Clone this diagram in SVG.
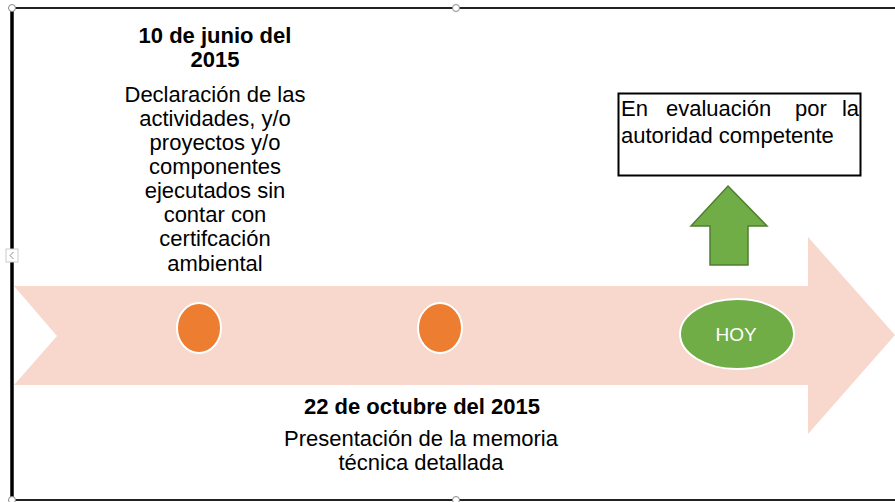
<svg xmlns="http://www.w3.org/2000/svg" width="895" height="502" viewBox="0 0 895 502">
<style>
.t{font-family:"Liberation Sans",Arial,sans-serif;font-size:22px;fill:#000;text-anchor:middle}
.b{font-weight:bold}
.j{font-family:"Liberation Sans",Arial,sans-serif;font-size:22px;fill:#000}
.handle{fill:#fff;stroke:#888;stroke-width:1}
</style>
<rect x="0" y="0" width="895" height="502" fill="#fff"/>
<g id="frame">
<line x1="12" y1="8" x2="895" y2="8" stroke="#222" stroke-width="2"/>
<line x1="12" y1="500" x2="895" y2="500" stroke="#222" stroke-width="2"/>
<line x1="12" y1="8" x2="12" y2="501" stroke="#000" stroke-width="3.5"/>
<circle class="handle" cx="12" cy="8" r="3.5"/>
<circle class="handle" cx="456" cy="8" r="3.5"/>
<circle class="handle" cx="12" cy="500" r="3.5"/>
<circle class="handle" cx="456" cy="500" r="3.5"/>
<rect x="6" y="249" width="12" height="13" fill="#fff" stroke="#ccc" stroke-width="1"/>
<path d="M13.5,252 L10,255.5 L13.5,259" fill="none" stroke="#888" stroke-width="1"/>
</g>
<g id="timeline">
<polygon points="14,286 808,286 808,237 895,335 808,434 808,385 14,385 57,336" fill="#f8d7cc"/>
</g>
<g id="node-2015-06">
<ellipse cx="199" cy="328" rx="22" ry="25" fill="#ed7d31" stroke="#fff" stroke-width="2"/>
<text class="t b" x="215" y="43">10 de junio del</text>
<text class="t b" x="215" y="67">2015</text>
<text class="t" x="215" y="102">Declaración de las</text>
<text class="t" x="215" y="126">actividades, y/o</text>
<text class="t" x="215" y="150">proyectos y/o</text>
<text class="t" x="215" y="174">componentes</text>
<text class="t" x="215" y="198">ejecutados sin</text>
<text class="t" x="215" y="222">contar con</text>
<text class="t" x="215" y="246">certifcación</text>
<text class="t" x="215" y="271">ambiental</text>
</g>
<g id="node-2015-10">
<ellipse cx="440" cy="328" rx="22" ry="25" fill="#ed7d31" stroke="#fff" stroke-width="2"/>
<text class="t b" x="422" y="414">22 de octubre del 2015</text>
<text class="t" x="421" y="446">Presentación de la memoria</text>
<text class="t" x="421" y="470">técnica detallada</text>
</g>
<g id="node-hoy">
<ellipse cx="737" cy="334" rx="57" ry="35" fill="#70ad47" stroke="#fff" stroke-width="2"/>
<text x="736" y="341" font-family="Liberation Sans,Arial,sans-serif" font-size="19" fill="#fff" text-anchor="middle">HOY</text>
</g>
<g id="connectors">
<polygon points="728,186 767,226 748,226 748,265 710,265 710,226 691,226" fill="#70ad47" stroke="#507e32" stroke-width="1.5"/>
</g>
<g id="node-evaluacion">
<rect x="618.5" y="93.5" width="242" height="82" fill="#fff" stroke="#000" stroke-width="2"/>
<text class="j" y="116"><tspan x="621">En</tspan><tspan x="666">evaluación</tspan><tspan x="795">por</tspan><tspan x="859" text-anchor="end">la</tspan></text>
<text class="j" x="621" y="143">autoridad competente</text>
</g>
</svg>
